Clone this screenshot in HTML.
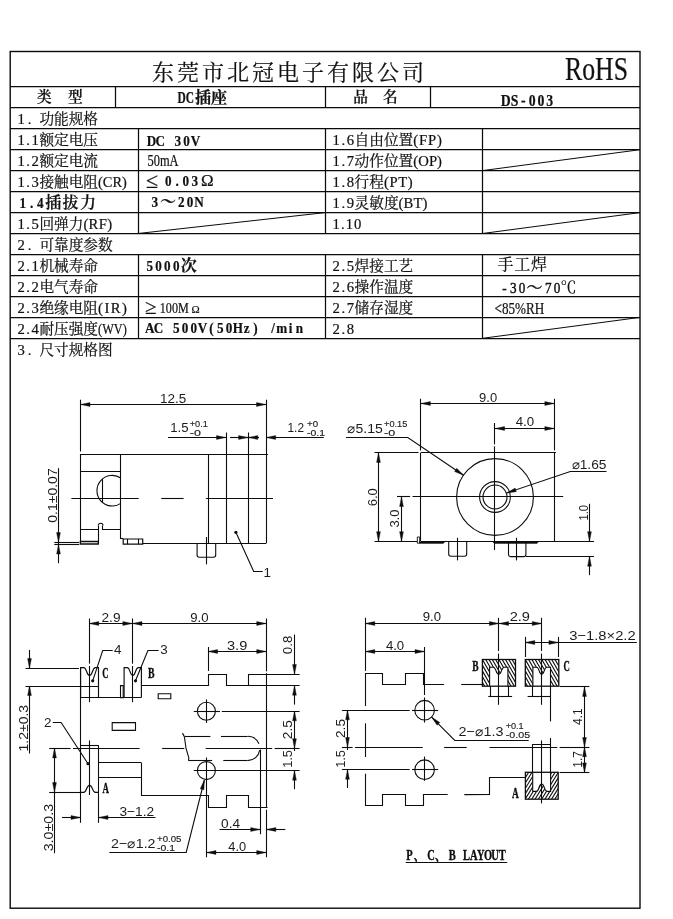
<!DOCTYPE html>
<html lang="zh"><head><meta charset="utf-8"><title>DS-003</title>
<style>
html,body{margin:0;padding:0;background:#fff}
#pg{position:relative;width:673px;height:919px;overflow:hidden;background:#fff}
.lay{position:absolute;left:0;top:0;will-change:transform;opacity:0.999}
text{fill:#111;white-space:pre}
.s{stroke:#111;stroke-width:0.22px}
.sk{stroke:#111;stroke-width:0.45px}
.s{font-family:"Liberation Serif","Noto Serif CJK SC",serif}
.m{font-family:"Liberation Mono","Noto Serif CJK SC",monospace}
.mb{font-family:"Liberation Mono","Noto Serif CJK SC",monospace;font-weight:700}
.w6{font-weight:600}.w7{font-weight:700}
.d{font-family:"Liberation Sans","Noto Sans CJK SC",sans-serif;fill:#1c1c1c;stroke:none}
.tb{font-weight:400;stroke:#1c1c1c;stroke-width:0.15px}
.b{font-family:"Liberation Serif","Noto Serif CJK SC",serif;font-weight:700;fill:#0c0c0c;stroke:#0c0c0c;stroke-width:0.35px}
</style></head><body><div id="pg">
<svg class="lay" width="673" height="919" viewBox="0 0 673 919"><rect x="10.2" y="51.5" width="629.8" height="856.7" fill="none" stroke="#0a0a0a" stroke-width="1.4"/><line x1="10.2" y1="86.5" x2="640.0" y2="86.5" stroke="#0a0a0a" stroke-width="1.25"/><line x1="10.2" y1="107.5" x2="640.0" y2="107.5" stroke="#0a0a0a" stroke-width="1.25"/><line x1="10.2" y1="128.5" x2="640.0" y2="128.5" stroke="#0a0a0a" stroke-width="1.25"/><line x1="10.2" y1="149.5" x2="640.0" y2="149.5" stroke="#0a0a0a" stroke-width="1.25"/><line x1="10.2" y1="170.5" x2="640.0" y2="170.5" stroke="#0a0a0a" stroke-width="1.25"/><line x1="10.2" y1="191.5" x2="640.0" y2="191.5" stroke="#0a0a0a" stroke-width="1.25"/><line x1="10.2" y1="212.5" x2="640.0" y2="212.5" stroke="#0a0a0a" stroke-width="1.25"/><line x1="10.2" y1="233.5" x2="640.0" y2="233.5" stroke="#0a0a0a" stroke-width="1.25"/><line x1="10.2" y1="254.5" x2="640.0" y2="254.5" stroke="#0a0a0a" stroke-width="1.25"/><line x1="10.2" y1="275.5" x2="640.0" y2="275.5" stroke="#0a0a0a" stroke-width="1.25"/><line x1="10.2" y1="296.5" x2="640.0" y2="296.5" stroke="#0a0a0a" stroke-width="1.25"/><line x1="10.2" y1="317.5" x2="640.0" y2="317.5" stroke="#0a0a0a" stroke-width="1.25"/><line x1="10.2" y1="338.5" x2="640.0" y2="338.5" stroke="#0a0a0a" stroke-width="1.25"/><line x1="115.5" y1="86.8" x2="115.5" y2="107.8" stroke="#0a0a0a" stroke-width="1.25"/><line x1="325.5" y1="86.8" x2="325.5" y2="107.8" stroke="#0a0a0a" stroke-width="1.25"/><line x1="430.5" y1="86.8" x2="430.5" y2="107.8" stroke="#0a0a0a" stroke-width="1.25"/><line x1="138.5" y1="128.7" x2="138.5" y2="233.5" stroke="#0a0a0a" stroke-width="1.25"/><line x1="325.5" y1="128.7" x2="325.5" y2="233.5" stroke="#0a0a0a" stroke-width="1.25"/><line x1="482.5" y1="128.7" x2="482.5" y2="233.5" stroke="#0a0a0a" stroke-width="1.25"/><line x1="138.5" y1="254.5" x2="138.5" y2="338.3" stroke="#0a0a0a" stroke-width="1.25"/><line x1="325.5" y1="254.5" x2="325.5" y2="338.3" stroke="#0a0a0a" stroke-width="1.25"/><line x1="482.5" y1="254.5" x2="482.5" y2="338.3" stroke="#0a0a0a" stroke-width="1.25"/><line x1="138.0" y1="233.5" x2="325.2" y2="212.6" stroke="#0a0a0a" stroke-width="1.0"/><line x1="482.5" y1="170.6" x2="640.0" y2="149.7" stroke="#0a0a0a" stroke-width="1.0"/><line x1="482.5" y1="233.5" x2="640.0" y2="212.6" stroke="#0a0a0a" stroke-width="1.0"/><line x1="482.5" y1="338.3" x2="640.0" y2="317.4" stroke="#0a0a0a" stroke-width="1.0"/>
<text class="s" x="17.4" y="124.0" font-size="14.67" textLength="14.1" lengthAdjust="spacing" >1.</text>
<text class="s" x="39.4" y="124.0" font-size="14.67" >功能规格</text>
<text class="s" x="17.4" y="144.9" font-size="14.67" textLength="21.4" lengthAdjust="spacing" >1.1</text>
<text class="s" x="39.4" y="144.9" font-size="14.67" >额定电压</text>
<text class="s" x="17.4" y="165.9" font-size="14.67" textLength="21.4" lengthAdjust="spacing" >1.2</text>
<text class="s" x="39.4" y="165.9" font-size="14.67" >额定电流</text>
<text class="s" x="17.4" y="186.8" font-size="14.67" textLength="21.4" lengthAdjust="spacing" >1.3</text>
<text class="s" x="39.4" y="186.8" font-size="14.67" >接触电阻</text>
<text class="s" x="98.1" y="186.8" font-size="14.67" textLength="28.7" lengthAdjust="spacingAndGlyphs" >(CR)</text>
<text class="s" x="17.4" y="228.8" font-size="14.67" textLength="21.4" lengthAdjust="spacing" >1.5</text>
<text class="s" x="39.4" y="228.8" font-size="14.67" >回弹力</text>
<text class="s" x="83.4" y="228.8" font-size="14.67" textLength="28.7" lengthAdjust="spacing" >(RF)</text>
<text class="s" x="17.4" y="249.7" font-size="14.67" textLength="14.1" lengthAdjust="spacing" >2.</text>
<text class="s" x="39.4" y="249.7" font-size="14.67" >可靠度参数</text>
<text class="s" x="17.4" y="270.7" font-size="14.67" textLength="21.4" lengthAdjust="spacing" >2.1</text>
<text class="s" x="39.4" y="270.7" font-size="14.67" >机械寿命</text>
<text class="s" x="17.4" y="291.6" font-size="14.67" textLength="21.4" lengthAdjust="spacing" >2.2</text>
<text class="s" x="39.4" y="291.6" font-size="14.67" >电气寿命</text>
<text class="s" x="17.4" y="312.6" font-size="14.67" textLength="21.4" lengthAdjust="spacing" >2.3</text>
<text class="s" x="39.4" y="312.6" font-size="14.67" >绝缘电阻</text>
<text class="s" x="98.1" y="312.6" font-size="14.67" textLength="28.7" lengthAdjust="spacing" >(IR)</text>
<text class="s" x="17.4" y="333.6" font-size="14.67" textLength="21.4" lengthAdjust="spacing" >2.4</text>
<text class="s" x="39.4" y="333.6" font-size="14.67" >耐压强度</text>
<text class="s" x="98.1" y="333.6" font-size="14.67" textLength="28.7" lengthAdjust="spacingAndGlyphs" >(WV)</text>
<text class="s" x="17.4" y="354.5" font-size="14.67" textLength="14.1" lengthAdjust="spacing" >3.</text>
<text class="s" x="39.4" y="354.5" font-size="14.67" >尺寸规格图</text>
<text class="s" x="332.6" y="144.9" font-size="14.67" textLength="21.4" lengthAdjust="spacing" >1.6</text>
<text class="s" x="354.6" y="144.9" font-size="14.67" >自由位置</text>
<text class="s" x="413.3" y="144.9" font-size="14.67" textLength="28.7" lengthAdjust="spacing" >(FP)</text>
<text class="s" x="332.6" y="165.9" font-size="14.67" textLength="21.4" lengthAdjust="spacing" >1.7</text>
<text class="s" x="354.6" y="165.9" font-size="14.67" >动作位置</text>
<text class="s" x="413.3" y="165.9" font-size="14.67" textLength="28.7" lengthAdjust="spacing" >(OP)</text>
<text class="s" x="332.6" y="186.8" font-size="14.67" textLength="21.4" lengthAdjust="spacing" >1.8</text>
<text class="s" x="354.6" y="186.8" font-size="14.67" >行程</text>
<text class="s" x="383.9" y="186.8" font-size="14.67" textLength="28.7" lengthAdjust="spacing" >(PT)</text>
<text class="s" x="332.6" y="207.8" font-size="14.67" textLength="21.4" lengthAdjust="spacing" >1.9</text>
<text class="s" x="354.6" y="207.8" font-size="14.67" >灵敏度</text>
<text class="s" x="398.6" y="207.8" font-size="14.67" textLength="28.7" lengthAdjust="spacing" >(BT)</text>
<text class="s" x="332.6" y="228.8" font-size="14.67" textLength="28.7" lengthAdjust="spacing" >1.10</text>
<text class="s" x="332.6" y="270.7" font-size="14.67" textLength="21.4" lengthAdjust="spacing" >2.5</text>
<text class="s" x="354.6" y="270.7" font-size="14.67" >焊接工艺</text>
<text class="s" x="332.6" y="291.6" font-size="14.67" textLength="21.4" lengthAdjust="spacing" >2.6</text>
<text class="s" x="354.6" y="291.6" font-size="14.67" >操作温度</text>
<text class="s" x="332.6" y="312.6" font-size="14.67" textLength="21.4" lengthAdjust="spacing" >2.7</text>
<text class="s" x="354.6" y="312.6" font-size="14.67" >储存湿度</text>
<text class="s" x="332.6" y="333.6" font-size="14.67" textLength="21.4" lengthAdjust="spacing" >2.8</text>
<text class="s w7" transform="translate(18.4 207.8) scale(0.860 1)" x="1.29 13.44 21.76" y="0" font-size="15.30" >1.4</text>
<text class="s w6" x="45.2" y="207.5" font-size="16.00" letter-spacing="1.4">插拔力</text>
<text class="s w6" x="37.0" y="102.0" font-size="14.67" >类</text>
<text class="s w6" x="68.0" y="102.0" font-size="14.67" >型</text>
<text class="s w6" x="353.3" y="102.0" font-size="14.67" >品</text>
<text class="s w6" x="383.0" y="102.0" font-size="14.67" >名</text>
<text class="s w7" x="177.6" y="102.8" font-size="16.00" textLength="16.5" lengthAdjust="spacingAndGlyphs" >DC</text>
<text class="s w7" x="195.0" y="102.8" font-size="16.00" >插座</text>
<text class="s w7" transform="translate(501.3 105.5) scale(0.860 1)" x="-0.66 10.90 22.92 31.81 42.05 52.28" y="0" font-size="16.00" >DS-003</text>
<text class="s" x="152.0" y="79.6" font-size="22.00" letter-spacing="3.0">东莞市北冠电子有限公司</text>
<text class="s" x="565.0" y="80.3" font-size="33.00" textLength="63.0" lengthAdjust="spacingAndGlyphs" >RoHS</text>
<text class="s w7" transform="translate(147.0 145.8) scale(0.860 1)" x="-0.41 9.82 23.67 31.99 42.22 50.75" y="0" font-size="15.30" >DC 30V</text>
<text class="s" x="147.5" y="166.3" font-size="16.00" textLength="31.0" lengthAdjust="spacingAndGlyphs" >50mA</text>
<text class="s" x="146.0" y="187.6" font-size="22.00" >≤</text>
<text class="s w7" transform="translate(163.9 186.2) scale(0.860 1)" x="1.29 13.44 21.76 31.99" y="0" font-size="15.30" >0.03</text>
<text class="s" x="201.0" y="186.0" font-size="17.00" >Ω</text>
<text class="s w7" transform="translate(150.5 207.2) scale(0.860 1)" x="1.29" y="0" font-size="15.30" >3</text>
<text class="s w7" x="160.0" y="207.2" font-size="16.00" >～</text>
<text class="s w7" transform="translate(176.9 207.2) scale(0.860 1)" x="1.29 11.52 20.06" y="0" font-size="15.30" >20N</text>
<text class="s w7" transform="translate(145.4 271.4) scale(0.860 1)" x="1.29 11.52 21.76 31.99" y="0" font-size="15.30" >5000</text>
<text class="s w7" x="180.8" y="271.4" font-size="16.00" >次</text>
<text class="s" x="145.0" y="314.2" font-size="21.00" >≥</text>
<text class="s" x="159.8" y="313.0" font-size="14.67" textLength="29.0" lengthAdjust="spacingAndGlyphs" >100M</text>
<text class="s" x="191.5" y="313.0" font-size="11.00" >Ω</text>
<text class="s w7" transform="translate(145.4 333.2) scale(0.860 1)" x="-0.41 9.82 23.67 31.99 42.22 52.45 60.99 74.20 83.15 93.38 101.49 114.28 125.36 136.23 146.25 152.23 166.71 174.82" y="0" font-size="15.30" >AC 500V(50Hz) /min</text>
<text class="s" x="497.4" y="270.4" font-size="16.00" letter-spacing="0.8">手工焊</text>
<text class="s sk" transform="translate(500.0 292.8) scale(0.860 1)" x="2.57 11.52 21.76" y="0" font-size="15.30" >-30</text>
<text class="s sk" x="526.6" y="292.8" font-size="16.00" >～</text>
<text class="s sk" transform="translate(543.8 292.8) scale(0.860 1)" x="1.29 11.52" y="0" font-size="15.30" >70</text>
<text class="s" x="560.5" y="292.8" font-size="16.00" >℃</text>
<text class="s" x="494.6" y="313.6" font-size="17.00" textLength="49.7" lengthAdjust="spacingAndGlyphs" >&lt;85%RH</text></svg>
<svg class="lay" width="673" height="919" viewBox="0 0 673 919" fill="none" stroke="#0d0d0d" stroke-linecap="butt"><defs>
<pattern id="hB" width="2.9" height="2.9" patternUnits="userSpaceOnUse" patternTransform="rotate(60)"><path d="M0 0.7H2.9" stroke="#141414" stroke-width="1.25"/></pattern>
<pattern id="hA" width="2.9" height="2.9" patternUnits="userSpaceOnUse" patternTransform="rotate(-58)"><path d="M0 0.7H2.9" stroke="#141414" stroke-width="1.25"/></pattern>
</defs>
<path d="M80.5 399.7L80.5 451.5" stroke-width="1.1"/>
<path d="M80.5 454.0L80.5 543.7" stroke-width="1.1"/>
<path d="M266.5 399.7L266.5 543.3" stroke-width="1.1"/>
<path d="M80.4 404.5L266.1 404.5" stroke-width="1.1"/>
<path d="M80.4 404.5L90.0 402.6L90.0 406.4Z" fill="#0d0d0d" stroke="#0d0d0d" stroke-width="0.4"/>
<path d="M266.1 404.5L256.5 406.4L256.5 402.6Z" fill="#0d0d0d" stroke="#0d0d0d" stroke-width="0.4"/>
<text class="d" x="160.0" y="402.8" font-size="13.4" textLength="26.2" lengthAdjust="spacingAndGlyphs">12.5</text>
<path d="M80.4 454.5L268.0 454.5" stroke-width="1.1"/>
<path d="M142.7 543.5L266.1 543.5" stroke-width="1.1"/>
<path d="M120.5 454.0L120.5 539.0" stroke-width="1.1"/>
<path d="M80.4 471.5L120.8 471.5" stroke-width="1.1"/>
<path d="M208.5 454.0L208.5 543.4" stroke-width="1.1"/>
<path d="M226.5 432.5L226.5 543.4" stroke-width="1.1"/>
<path d="M248.5 432.5L248.5 543.4" stroke-width="1.1"/>
<path d="M168.0 437.5L226.1 437.5" stroke-width="1.1"/>
<path d="M226.1 437.5L216.5 439.4L216.5 435.6Z" fill="#0d0d0d" stroke="#0d0d0d" stroke-width="0.4"/>
<path d="M230.0 437.5L248.2 437.5" stroke-width="1.1"/>
<path d="M248.2 437.5L238.6 439.4L238.6 435.6Z" fill="#0d0d0d" stroke="#0d0d0d" stroke-width="0.4"/>
<path d="M248.2 437.5L259.0 437.5" stroke-width="1.1"/>
<path d="M248.2 437.5L257.8 435.6L257.8 439.4Z" fill="#0d0d0d" stroke="#0d0d0d" stroke-width="0.4"/>
<path d="M266.1 437.5L323.8 437.5" stroke-width="1.1"/>
<path d="M266.1 437.5L275.7 435.6L275.7 439.4Z" fill="#0d0d0d" stroke="#0d0d0d" stroke-width="0.4"/>
<text class="d" x="170.3" y="432.2" font-size="13.4" textLength="18.3" lengthAdjust="spacingAndGlyphs">1.5</text>
<text class="d tb" x="189.8" y="426.6" font-size="9.0" textLength="18.0" lengthAdjust="spacingAndGlyphs">+0.1</text>
<text class="d tb" x="189.8" y="435.8" font-size="9.0" textLength="11.1" lengthAdjust="spacingAndGlyphs">-0</text>
<text class="d" x="287.5" y="432.2" font-size="13.4" textLength="16.5" lengthAdjust="spacingAndGlyphs">1.2</text>
<text class="d tb" x="307.0" y="426.6" font-size="9.0" textLength="11.1" lengthAdjust="spacingAndGlyphs">+0</text>
<text class="d tb" x="307.0" y="435.8" font-size="9.0" textLength="18.0" lengthAdjust="spacingAndGlyphs">-0.1</text>
<path d="M71.4 498.5L138.7 498.5" stroke-width="1.1"/>
<path d="M161.3 498.5L183.6 498.5" stroke-width="1.1"/>
<path d="M205.8 498.5L273.0 498.5" stroke-width="1.1"/>
<path d="M120.8 478.0A15.3 15.3 0 1 0 120.8 503.4" stroke-width="1.1" fill="none"/>
<path d="M102.5 479.1L102.5 502.3" stroke-width="1.1"/>
<path d="M80.4 529.5L98.5 529.5L98.5 525.6" stroke-width="1.1" fill="none"/>
<path d="M98.3 525.6A2.35 2.35 0 0 1 103 525.6" stroke-width="1.1" fill="none"/>
<path d="M102.5 525.6L102.5 529.5L120.8 529.5" stroke-width="1.1" fill="none"/>
<path d="M98.5 529.5L98.5 543.7" stroke-width="1.1"/>
<path d="M80.4 541.5H98.3V544.0H80.4Z" stroke-width="1.3" fill="none"/>
<path d="M54.3 542.5L79.2 542.5" stroke-width="1.1"/>
<path d="M54.3 544.5L79.2 544.5" stroke-width="1.1"/>
<path d="M120.8 538.5L123.2 538.5" stroke-width="1.1"/>
<path d="M123.2 539H142.7V544.2H123.2Z" stroke-width="1.2" fill="none"/>
<path d="M127.5 539.0L127.5 544.2" stroke-width="1.1"/>
<path d="M138.5 539.0L138.5 544.2" stroke-width="1.1"/>
<path d="M58.5 468.2L58.5 563.2" stroke-width="1.1"/>
<path d="M58.5 542.2L56.6 532.6L60.4 532.6Z" fill="#0d0d0d" stroke="#0d0d0d" stroke-width="0.4"/>
<path d="M58.5 544.4L60.4 554.0L56.6 554.0Z" fill="#0d0d0d" stroke="#0d0d0d" stroke-width="0.4"/>
<text class="d" x="56.9" y="522.8" font-size="13.4" textLength="54.5" lengthAdjust="spacingAndGlyphs" transform="rotate(-90 56.9 522.8)">0.1±0.07</text>
<path d="M197.1 543.4L197.1 555.1Q197.1 557.3 199.3 557.3L213.5 557.3Q215.7 557.3 215.7 555.1L215.7 543.4" stroke-width="1.1" fill="none"/>
<path d="M206.5 537.0L206.5 564.4" stroke-width="1.1"/>
<circle cx="235.9" cy="532.3" r="1.6" fill="#0d0d0d" stroke="none"/>
<path d="M235.9 532.3L253.7 571.5L262.7 571.5" stroke-width="1.1" fill="none"/>
<text class="d" x="263.6" y="577.0" font-size="13.4">1</text>
<path d="M420.5 398.8L420.5 450.5" stroke-width="1.1"/>
<path d="M420.5 452.8L420.5 541.3" stroke-width="1.1"/>
<path d="M554.5 398.8L554.5 450.4" stroke-width="1.1"/>
<path d="M554.5 452.8L554.5 541.3" stroke-width="1.1"/>
<path d="M420.8 403.5L554.4 403.5" stroke-width="1.1"/>
<path d="M420.8 403.5L430.4 401.6L430.4 405.4Z" fill="#0d0d0d" stroke="#0d0d0d" stroke-width="0.4"/>
<path d="M554.4 403.5L544.8 405.4L544.8 401.6Z" fill="#0d0d0d" stroke="#0d0d0d" stroke-width="0.4"/>
<text class="d" x="479.1" y="401.6" font-size="13.4" textLength="18.0" lengthAdjust="spacingAndGlyphs">9.0</text>
<path d="M420.8 452.5L556.0 452.5" stroke-width="1.1"/>
<path d="M374.5 452.5L418.5 452.5" stroke-width="1.1"/>
<path d="M420.8 541.5L594.1 541.5" stroke-width="1.1"/>
<path d="M374.5 541.5L417.3 541.5" stroke-width="1.1"/>
<circle cx="495.0" cy="497.0" r="38.4" stroke-width="1.1"/>
<circle cx="495.0" cy="497.0" r="15.4" stroke-width="1.1"/>
<circle cx="495.0" cy="497.0" r="12.0" stroke-width="1.1"/>
<path d="M494.5 423.0L494.5 444.4" stroke-width="1.1"/>
<path d="M494.5 446.3L494.5 550.0" stroke-width="1.1"/>
<path d="M397.0 496.5L410.1 496.5" stroke-width="1.1"/>
<path d="M412.5 496.5L563.2 496.5" stroke-width="1.1"/>
<path d="M495.0 428.5L554.4 428.5" stroke-width="1.1"/>
<path d="M495.0 428.5L504.6 426.6L504.6 430.4Z" fill="#0d0d0d" stroke="#0d0d0d" stroke-width="0.4"/>
<path d="M554.4 428.5L544.8 430.4L544.8 426.6Z" fill="#0d0d0d" stroke="#0d0d0d" stroke-width="0.4"/>
<text class="d" x="515.7" y="426.0" font-size="13.4" textLength="18.5" lengthAdjust="spacingAndGlyphs">4.0</text>
<text class="d" x="347.1" y="432.5" font-size="13.4" textLength="35.7" lengthAdjust="spacingAndGlyphs">⌀5.15</text>
<text class="d tb" x="384.0" y="426.8" font-size="9.0" textLength="23.3" lengthAdjust="spacingAndGlyphs">+0.15</text>
<text class="d tb" x="384.0" y="436.0" font-size="9.0" textLength="11.1" lengthAdjust="spacingAndGlyphs">-0</text>
<path d="M346.0 437.5L407.8 437.5L463.6 475.3" stroke-width="1.1" fill="none"/>
<path d="M463.6 475.3L454.6 471.5L456.7 468.3Z" fill="#0d0d0d" stroke="#0d0d0d" stroke-width="0.4"/>
<text class="d" x="571.5" y="469.4" font-size="13.4" textLength="35.0" lengthAdjust="spacingAndGlyphs">⌀1.65</text>
<path d="M606.5 471.5L570.3 471.5L506.6 493.0" stroke-width="1.1" fill="none"/>
<path d="M506.6 493.0L515.1 488.1L516.3 491.7Z" fill="#0d0d0d" stroke="#0d0d0d" stroke-width="0.4"/>
<path d="M378.5 452.8L378.5 541.3" stroke-width="1.1"/>
<path d="M378.5 452.8L380.4 462.4L376.6 462.4Z" fill="#0d0d0d" stroke="#0d0d0d" stroke-width="0.4"/>
<path d="M378.5 541.3L376.6 531.7L380.4 531.7Z" fill="#0d0d0d" stroke="#0d0d0d" stroke-width="0.4"/>
<text class="d" x="376.8" y="506.2" font-size="13.4" textLength="18.0" lengthAdjust="spacingAndGlyphs" transform="rotate(-90 376.8 506.2)">6.0</text>
<path d="M401.5 497.0L401.5 541.3" stroke-width="1.1"/>
<path d="M401.5 497.0L403.4 506.6L399.6 506.6Z" fill="#0d0d0d" stroke="#0d0d0d" stroke-width="0.4"/>
<path d="M401.5 541.3L399.6 531.7L403.4 531.7Z" fill="#0d0d0d" stroke="#0d0d0d" stroke-width="0.4"/>
<text class="d" x="399.3" y="527.6" font-size="13.4" textLength="18.0" lengthAdjust="spacingAndGlyphs" transform="rotate(-90 399.3 527.6)">3.0</text>
<path d="M417.3 537H419.7V543.2H417.3Z" stroke-width="0.9" fill="none"/>
<path d="M419.7 541.3V543.2H443L445.5 541.3" stroke-width="0.9" fill="none"/>
<path d="M492.5 541.3L494 543.2H537L538.8 541.3" stroke-width="0.9" fill="none"/>
<path d="M419.7 542.5L444.0 542.5" stroke-width="1.4"/>
<path d="M494.0 542.5L537.5 542.5" stroke-width="1.4"/>
<path d="M448.7 541.3L448.7 554.0Q448.7 556.2 450.9 556.2L464.5 556.2Q466.7 556.2 466.7 554.0L466.7 541.3" stroke-width="1.1" fill="none"/>
<path d="M457.5 537.8L457.5 560.4" stroke-width="1.1"/>
<path d="M508.5 541.3L508.5 554.4Q508.5 556.6 510.7 556.6L523.7 556.6Q525.9 556.6 525.9 554.4L525.9 541.3" stroke-width="1.1" fill="none"/>
<path d="M516.5 537.8L516.5 560.4" stroke-width="1.1"/>
<path d="M525.9 556.5L594.1 556.5" stroke-width="1.1"/>
<path d="M589.5 503.8L589.5 541.3" stroke-width="1.1"/>
<path d="M589.5 541.3L587.6 531.7L591.4 531.7Z" fill="#0d0d0d" stroke="#0d0d0d" stroke-width="0.4"/>
<path d="M589.5 556.6L589.5 575.1" stroke-width="1.1"/>
<path d="M589.5 556.6L591.4 566.2L587.6 566.2Z" fill="#0d0d0d" stroke="#0d0d0d" stroke-width="0.4"/>
<text class="d" x="588.0" y="520.6" font-size="13.4" textLength="15.6" lengthAdjust="spacingAndGlyphs" transform="rotate(-90 588.0 520.6)">1.0</text>
<path d="M89.5 618.5L89.5 663.7" stroke-width="1.1"/>
<path d="M89.5 666.0L89.5 702.2" stroke-width="1.1"/>
<path d="M132.5 618.5L132.5 663.7" stroke-width="1.1"/>
<path d="M132.5 666.0L132.5 702.2" stroke-width="1.1"/>
<path d="M89.2 623.5L266.3 623.5" stroke-width="1.1"/>
<path d="M89.2 623.5L98.8 621.6L98.8 625.4Z" fill="#0d0d0d" stroke="#0d0d0d" stroke-width="0.4"/>
<path d="M132.4 623.5L122.8 625.4L122.8 621.6Z" fill="#0d0d0d" stroke="#0d0d0d" stroke-width="0.4"/>
<path d="M132.4 623.5L142.0 621.6L142.0 625.4Z" fill="#0d0d0d" stroke="#0d0d0d" stroke-width="0.4"/>
<path d="M266.3 623.5L256.7 625.4L256.7 621.6Z" fill="#0d0d0d" stroke="#0d0d0d" stroke-width="0.4"/>
<text class="d" x="101.5" y="622.0" font-size="13.4" textLength="19.0" lengthAdjust="spacingAndGlyphs">2.9</text>
<text class="d" x="190.2" y="621.9" font-size="13.4" textLength="18.3" lengthAdjust="spacingAndGlyphs">9.0</text>
<path d="M266.5 618.5L266.5 671.3" stroke-width="1.1"/>
<path d="M266.5 673.2L266.5 807.3" stroke-width="1.1"/>
<path d="M266.5 809.7L266.5 857.3" stroke-width="1.1"/>
<path d="M208.5 647.0L208.5 670.9" stroke-width="1.1"/>
<path d="M208.0 651.5L266.3 651.5" stroke-width="1.1"/>
<path d="M208.0 651.5L217.6 649.6L217.6 653.4Z" fill="#0d0d0d" stroke="#0d0d0d" stroke-width="0.4"/>
<path d="M266.3 651.5L256.7 653.4L256.7 649.6Z" fill="#0d0d0d" stroke="#0d0d0d" stroke-width="0.4"/>
<text class="d" x="227.0" y="650.0" font-size="13.4" textLength="20.3" lengthAdjust="spacingAndGlyphs">3.9</text>
<path d="M80.6 697.6L80.6 667.6L83.6 667.6C87.1 667.6 86.1 675.3 89.5 675.3C93.0 675.3 92.0 667.6 95.5 667.6L98.5 667.6L98.5 697.6" stroke-width="1.15" fill="none"/>
<path d="M124.1 697.6L124.1 667.6L127.1 667.6C130.4 667.6 129.5 675.3 132.8 675.3C136.0 675.3 135.1 667.6 138.4 667.6L141.4 667.6L141.4 697.6" stroke-width="1.15" fill="none"/>
<path d="M80.6 697.5L141.4 697.5" stroke-width="1.1"/>
<path d="M120.5 685.6H123.2V697.6H120.5Z" stroke-width="1.1" fill="none"/>
<path d="M25.5 668.5L79.0 668.5" stroke-width="1.1"/>
<path d="M25.5 686.5L98.4 686.5" stroke-width="1.1"/>
<path d="M29.5 650.0L29.5 668.2" stroke-width="1.1"/>
<path d="M29.5 668.2L27.6 658.6L31.4 658.6Z" fill="#0d0d0d" stroke="#0d0d0d" stroke-width="0.4"/>
<path d="M29.5 686.0L29.5 753.5" stroke-width="1.1"/>
<path d="M29.5 686.0L31.4 695.6L27.6 695.6Z" fill="#0d0d0d" stroke="#0d0d0d" stroke-width="0.4"/>
<text class="d" x="27.6" y="751.4" font-size="13.4" textLength="46.5" lengthAdjust="spacingAndGlyphs" transform="rotate(-90 27.6 751.4)">1.2±0.3</text>
<path d="M80.5 668.2L80.5 822.8" stroke-width="1.1"/>
<path d="M98.5 745.2L98.5 822.8" stroke-width="1.1"/>
<path d="M89.5 740.4L89.5 795.0" stroke-width="1.1"/>
<path d="M80.6 745.5L98.4 745.5" stroke-width="1.1"/>
<path d="M80.6 792.4L83.6 792.4C87.1 792.4 86.1 785.3 89.5 785.3C93.0 785.3 92.0 792.4 95.5 792.4L98.5 792.4" stroke-width="1.15" fill="none"/>
<path d="M98.4 762.5L141.5 762.5" stroke-width="1.1"/>
<path d="M98.4 777.5L141.5 777.5" stroke-width="1.1"/>
<path d="M141.5 763.0L141.5 795.5L208.5 795.5L208.5 807.5L226.5 807.5L226.5 795.5L248.5 795.5L248.5 807.5L267.5 807.5" stroke-width="1.1" fill="none"/>
<path d="M141.5 685.5L208.5 685.5L208.5 674.5L226.5 674.5L226.5 685.5L248.5 685.5L248.5 674.5L299.6 674.5" stroke-width="1.1" fill="none"/>
<path d="M248.5 685.5L299.6 685.5" stroke-width="1.1"/>
<path d="M158.2 693.8H170.8V698.8H158.2Z" stroke-width="1.1" fill="none"/>
<path d="M112.2 722.6H135.5V730.4H112.2Z" stroke-width="1.1" fill="none"/>
<circle cx="206.4" cy="711.2" r="9.0" stroke-width="1.1"/>
<circle cx="206.4" cy="770.6" r="9.0" stroke-width="1.1"/>
<path d="M193.8 711.5L220.0 711.5" stroke-width="1.1"/>
<path d="M221.8 711.5L299.6 711.5" stroke-width="1.1"/>
<path d="M206.5 699.4L206.5 723.0" stroke-width="1.1"/>
<path d="M193.8 770.5L299.6 770.5" stroke-width="1.1"/>
<path d="M206.5 757.5L206.5 857.3" stroke-width="1.1"/>
<path d="M49.2 748.5L70.6 748.5" stroke-width="1.1"/>
<path d="M73.0 748.5L139.6 748.5" stroke-width="1.1"/>
<path d="M162.2 748.5L184.3 748.5" stroke-width="1.1"/>
<path d="M205.7 748.5L272.2 748.5" stroke-width="1.1"/>
<path d="M274.6 748.5L299.6 748.5" stroke-width="1.1"/>
<path d="M184.7 736.5L210.4 736.5" stroke-width="1.1"/>
<path d="M221.0 736.5L247.6 736.5" stroke-width="1.1"/>
<path d="M247.6 736.2A12.2 12.2 0 0 1 258.9 743.8" stroke-width="1.1" fill="none"/>
<path d="M259.7 750.2A12.2 12.2 0 0 1 247.6 760.6" stroke-width="1.1" fill="none"/>
<path d="M247.6 760.5L223.3 760.5" stroke-width="1.1"/>
<path d="M212.1 760.5L188.4 760.5" stroke-width="1.1"/>
<path d="M182.4 733.2C184 735 184.6 736 185 741C185.4 747 186.4 751 188 755C189.2 757.5 189.3 759 188.4 760.6" stroke-width="1.1" fill="none"/>
<path d="M260.5 749.5L260.5 834.2" stroke-width="1.1"/>
<path d="M294.5 634.5L294.5 674.2" stroke-width="1.1"/>
<path d="M294.5 674.2L292.6 664.6L296.4 664.6Z" fill="#0d0d0d" stroke="#0d0d0d" stroke-width="0.4"/>
<path d="M294.5 685.6L294.5 704.6" stroke-width="1.1"/>
<path d="M294.5 685.6L296.4 695.2L292.6 695.2Z" fill="#0d0d0d" stroke="#0d0d0d" stroke-width="0.4"/>
<text class="d" x="292.3" y="654.2" font-size="13.4" textLength="18.5" lengthAdjust="spacingAndGlyphs" transform="rotate(-90 292.3 654.2)">0.8</text>
<path d="M294.5 711.2L294.5 751.0" stroke-width="1.1"/>
<path d="M294.5 711.2L296.4 720.8L292.6 720.8Z" fill="#0d0d0d" stroke="#0d0d0d" stroke-width="0.4"/>
<path d="M294.5 748.3L292.6 738.7L296.4 738.7Z" fill="#0d0d0d" stroke="#0d0d0d" stroke-width="0.4"/>
<text class="d" x="292.3" y="739.2" font-size="13.4" textLength="19.0" lengthAdjust="spacingAndGlyphs" transform="rotate(-90 292.3 739.2)">2.5</text>
<path d="M294.5 770.6L294.5 789.2" stroke-width="1.1"/>
<path d="M294.5 770.6L296.4 780.2L292.6 780.2Z" fill="#0d0d0d" stroke="#0d0d0d" stroke-width="0.4"/>
<text class="d" x="292.3" y="767.8" font-size="13.4" textLength="17.8" lengthAdjust="spacingAndGlyphs" transform="rotate(-90 292.3 767.8)">1.5</text>
<path d="M49.2 792.5L80.1 792.5" stroke-width="1.1"/>
<path d="M54.5 748.3L54.5 853.2" stroke-width="1.1"/>
<path d="M54.5 748.3L56.4 757.9L52.6 757.9Z" fill="#0d0d0d" stroke="#0d0d0d" stroke-width="0.4"/>
<path d="M54.5 792.2L52.6 782.6L56.4 782.6Z" fill="#0d0d0d" stroke="#0d0d0d" stroke-width="0.4"/>
<text class="d" x="52.7" y="851.3" font-size="13.4" textLength="47.5" lengthAdjust="spacingAndGlyphs" transform="rotate(-90 52.7 851.3)">3.0±0.3</text>
<path d="M62.0 817.5L80.6 817.5" stroke-width="1.1"/>
<path d="M80.6 817.5L71.0 819.4L71.0 815.6Z" fill="#0d0d0d" stroke="#0d0d0d" stroke-width="0.4"/>
<path d="M98.4 817.5L155.5 817.5" stroke-width="1.1"/>
<path d="M98.4 817.5L108.0 815.6L108.0 819.4Z" fill="#0d0d0d" stroke="#0d0d0d" stroke-width="0.4"/>
<text class="d" x="119.4" y="815.5" font-size="13.4" textLength="34.7" lengthAdjust="spacingAndGlyphs">3−1.2</text>
<text class="d" x="44.0" y="726.6" font-size="13.4">2</text>
<path d="M52.8 722.5L61.1 722.5L88.0 763.7" stroke-width="1.1" fill="none"/>
<circle cx="88.0" cy="763.7" r="1.6" fill="#0d0d0d" stroke="none"/>
<circle cx="92.7" cy="680.8" r="1.6" fill="#0d0d0d" stroke="none"/>
<path d="M92.7 680.8L102.7 650.5L112.7 650.5" stroke-width="1.1" fill="none"/>
<text class="d" x="113.9" y="654.2" font-size="13.4">4</text>
<circle cx="135.5" cy="680.8" r="1.6" fill="#0d0d0d" stroke="none"/>
<path d="M135.5 680.8L147.9 650.5L158.6 650.5" stroke-width="1.1" fill="none"/>
<text class="d" x="160.3" y="654.2" font-size="13.4">3</text>
<text class="b" x="102.2" y="677.8" font-size="14.7" textLength="6.3" lengthAdjust="spacingAndGlyphs">C</text>
<text class="b" x="147.9" y="677.8" font-size="14.7" textLength="6.5" lengthAdjust="spacingAndGlyphs">B</text>
<text class="b" x="102.6" y="792.9" font-size="14.7" textLength="6.4" lengthAdjust="spacingAndGlyphs">A</text>
<text class="d" x="111.0" y="847.8" font-size="13.4" textLength="44.5" lengthAdjust="spacingAndGlyphs">2−⌀1.2</text>
<text class="d tb" x="157.0" y="841.8" font-size="9.0" textLength="24.4" lengthAdjust="spacingAndGlyphs">+0.05</text>
<text class="d tb" x="157.0" y="850.6" font-size="9.0" textLength="18.0" lengthAdjust="spacingAndGlyphs">-0.1</text>
<path d="M109.4 852.5L186.2 852.5L204.4 780.0" stroke-width="1.1" fill="none"/>
<path d="M204.4 780.0L203.9 789.8L200.2 788.8Z" fill="#0d0d0d" stroke="#0d0d0d" stroke-width="0.4"/>
<path d="M219.5 829.5L260.3 829.5" stroke-width="1.1"/>
<path d="M260.3 829.5L250.7 831.4L250.7 827.6Z" fill="#0d0d0d" stroke="#0d0d0d" stroke-width="0.4"/>
<path d="M266.3 829.5L285.3 829.5" stroke-width="1.1"/>
<path d="M266.3 829.5L275.9 827.6L275.9 831.4Z" fill="#0d0d0d" stroke="#0d0d0d" stroke-width="0.4"/>
<text class="d" x="221.1" y="827.6" font-size="13.4" textLength="19.0" lengthAdjust="spacingAndGlyphs">0.4</text>
<path d="M206.4 852.5L266.3 852.5" stroke-width="1.1"/>
<path d="M206.4 852.5L216.0 850.6L216.0 854.4Z" fill="#0d0d0d" stroke="#0d0d0d" stroke-width="0.4"/>
<path d="M266.3 852.5L256.7 854.4L256.7 850.6Z" fill="#0d0d0d" stroke="#0d0d0d" stroke-width="0.4"/>
<text class="d" x="228.3" y="850.6" font-size="13.4" textLength="17.8" lengthAdjust="spacingAndGlyphs">4.0</text>
<clipPath id="cp1"><rect x="482.4" y="659.5" width="33.1" height="26.7"/></clipPath>
<path d="M383.40 659.5L398.82 686.2M386.70 659.5L402.12 686.2M390.00 659.5L405.42 686.2M393.30 659.5L408.72 686.2M396.60 659.5L412.02 686.2M399.90 659.5L415.32 686.2M403.20 659.5L418.62 686.2M406.50 659.5L421.92 686.2M409.80 659.5L425.22 686.2M413.10 659.5L428.52 686.2M416.40 659.5L431.82 686.2M419.70 659.5L435.12 686.2M423.00 659.5L438.42 686.2M426.30 659.5L441.72 686.2M429.60 659.5L445.02 686.2M432.90 659.5L448.32 686.2M436.20 659.5L451.62 686.2M439.50 659.5L454.92 686.2M442.80 659.5L458.22 686.2M446.10 659.5L461.52 686.2M449.40 659.5L464.82 686.2M452.70 659.5L468.12 686.2M456.00 659.5L471.42 686.2M459.30 659.5L474.72 686.2M462.60 659.5L478.02 686.2M465.90 659.5L481.32 686.2M469.20 659.5L484.62 686.2M472.50 659.5L487.92 686.2M475.80 659.5L491.22 686.2M479.10 659.5L494.52 686.2M482.40 659.5L497.82 686.2M485.70 659.5L501.12 686.2M489.00 659.5L504.42 686.2M492.30 659.5L507.72 686.2M495.60 659.5L511.02 686.2M498.90 659.5L514.32 686.2M502.20 659.5L517.62 686.2M505.50 659.5L520.92 686.2M508.80 659.5L524.22 686.2M512.10 659.5L527.52 686.2M515.40 659.5L530.82 686.2M518.70 659.5L534.12 686.2M522.00 659.5L537.42 686.2M525.30 659.5L540.72 686.2M528.60 659.5L544.02 686.2M531.90 659.5L547.32 686.2M535.20 659.5L550.62 686.2M538.50 659.5L553.92 686.2M541.80 659.5L557.22 686.2M545.10 659.5L560.52 686.2M548.40 659.5L563.82 686.2M551.70 659.5L567.12 686.2M555.00 659.5L570.42 686.2M558.30 659.5L573.72 686.2M561.60 659.5L577.02 686.2M564.90 659.5L580.32 686.2M568.20 659.5L583.62 686.2M571.50 659.5L586.92 686.2M574.80 659.5L590.22 686.2M578.10 659.5L593.52 686.2" stroke="#111" stroke-width="1.15" clip-path="url(#cp1)"/>
<path d="M489.6 686.2L489.6 667.2L493.2 667.2C496.4 667.2 495.5 674.2 498.8 674.2C502.0 674.2 501.1 667.2 504.3 667.2L507.9 667.2L507.9 686.2" fill="#fff" stroke-width="1.1"/>
<rect x="482.4" y="659.5" width="33.1" height="26.7" stroke-width="1.3"/>
<clipPath id="cp2"><rect x="525.3" y="659.5" width="33.5" height="26.7"/></clipPath>
<path d="M426.30 659.5L441.72 686.2M429.60 659.5L445.02 686.2M432.90 659.5L448.32 686.2M436.20 659.5L451.62 686.2M439.50 659.5L454.92 686.2M442.80 659.5L458.22 686.2M446.10 659.5L461.52 686.2M449.40 659.5L464.82 686.2M452.70 659.5L468.12 686.2M456.00 659.5L471.42 686.2M459.30 659.5L474.72 686.2M462.60 659.5L478.02 686.2M465.90 659.5L481.32 686.2M469.20 659.5L484.62 686.2M472.50 659.5L487.92 686.2M475.80 659.5L491.22 686.2M479.10 659.5L494.52 686.2M482.40 659.5L497.82 686.2M485.70 659.5L501.12 686.2M489.00 659.5L504.42 686.2M492.30 659.5L507.72 686.2M495.60 659.5L511.02 686.2M498.90 659.5L514.32 686.2M502.20 659.5L517.62 686.2M505.50 659.5L520.92 686.2M508.80 659.5L524.22 686.2M512.10 659.5L527.52 686.2M515.40 659.5L530.82 686.2M518.70 659.5L534.12 686.2M522.00 659.5L537.42 686.2M525.30 659.5L540.72 686.2M528.60 659.5L544.02 686.2M531.90 659.5L547.32 686.2M535.20 659.5L550.62 686.2M538.50 659.5L553.92 686.2M541.80 659.5L557.22 686.2M545.10 659.5L560.52 686.2M548.40 659.5L563.82 686.2M551.70 659.5L567.12 686.2M555.00 659.5L570.42 686.2M558.30 659.5L573.72 686.2M561.60 659.5L577.02 686.2M564.90 659.5L580.32 686.2M568.20 659.5L583.62 686.2M571.50 659.5L586.92 686.2M574.80 659.5L590.22 686.2M578.10 659.5L593.52 686.2M581.40 659.5L596.82 686.2M584.70 659.5L600.12 686.2M588.00 659.5L603.42 686.2M591.30 659.5L606.72 686.2M594.60 659.5L610.02 686.2M597.90 659.5L613.32 686.2M601.20 659.5L616.62 686.2M604.50 659.5L619.92 686.2M607.80 659.5L623.22 686.2M611.10 659.5L626.52 686.2M614.40 659.5L629.82 686.2M617.70 659.5L633.12 686.2M621.00 659.5L636.42 686.2" stroke="#111" stroke-width="1.15" clip-path="url(#cp2)"/>
<path d="M532.9 686.2L532.9 667.2L536.5 667.2C539.5 667.2 538.7 674.2 541.7 674.2C544.7 674.2 543.9 667.2 546.9 667.2L550.5 667.2L550.5 686.2" fill="#fff" stroke-width="1.1"/>
<rect x="525.3" y="659.5" width="33.5" height="26.7" stroke-width="1.3"/>
<clipPath id="cp3"><rect x="525.4" y="772.3" width="32.8" height="26.9"/></clipPath>
<path d="M426.40 772.3L409.59 799.2M429.70 772.3L412.89 799.2M433.00 772.3L416.19 799.2M436.30 772.3L419.49 799.2M439.60 772.3L422.79 799.2M442.90 772.3L426.09 799.2M446.20 772.3L429.39 799.2M449.50 772.3L432.69 799.2M452.80 772.3L435.99 799.2M456.10 772.3L439.29 799.2M459.40 772.3L442.59 799.2M462.70 772.3L445.89 799.2M466.00 772.3L449.19 799.2M469.30 772.3L452.49 799.2M472.60 772.3L455.79 799.2M475.90 772.3L459.09 799.2M479.20 772.3L462.39 799.2M482.50 772.3L465.69 799.2M485.80 772.3L468.99 799.2M489.10 772.3L472.29 799.2M492.40 772.3L475.59 799.2M495.70 772.3L478.89 799.2M499.00 772.3L482.19 799.2M502.30 772.3L485.49 799.2M505.60 772.3L488.79 799.2M508.90 772.3L492.09 799.2M512.20 772.3L495.39 799.2M515.50 772.3L498.69 799.2M518.80 772.3L501.99 799.2M522.10 772.3L505.29 799.2M525.40 772.3L508.59 799.2M528.70 772.3L511.89 799.2M532.00 772.3L515.19 799.2M535.30 772.3L518.49 799.2M538.60 772.3L521.79 799.2M541.90 772.3L525.09 799.2M545.20 772.3L528.39 799.2M548.50 772.3L531.69 799.2M551.80 772.3L534.99 799.2M555.10 772.3L538.29 799.2M558.40 772.3L541.59 799.2M561.70 772.3L544.89 799.2M565.00 772.3L548.19 799.2M568.30 772.3L551.49 799.2M571.60 772.3L554.79 799.2M574.90 772.3L558.09 799.2M578.20 772.3L561.39 799.2M581.50 772.3L564.69 799.2M584.80 772.3L567.99 799.2M588.10 772.3L571.29 799.2M591.40 772.3L574.59 799.2M594.70 772.3L577.89 799.2M598.00 772.3L581.19 799.2M601.30 772.3L584.49 799.2M604.60 772.3L587.79 799.2M607.90 772.3L591.09 799.2M611.20 772.3L594.39 799.2M614.50 772.3L597.69 799.2M617.80 772.3L600.99 799.2M621.10 772.3L604.29 799.2" stroke="#111" stroke-width="1.15" clip-path="url(#cp3)"/>
<path d="M532.7 772.3L532.7 791.4L536.3 791.4C539.4 791.4 538.5 784.0 541.7 784.0C544.8 784.0 543.9 791.4 547.0 791.4L550.6 791.4L550.6 772.3" fill="#fff" stroke-width="1.1"/>
<rect x="525.4" y="772.3" width="32.8" height="26.9" stroke-width="1.3"/>
<path d="M365.5 617.8L365.5 670.9" stroke-width="1.1"/>
<path d="M365.5 673.2L365.5 706.0" stroke-width="1.1"/>
<path d="M365.5 723.3L365.5 757.0" stroke-width="1.1"/>
<path d="M365.5 773.7L365.5 805.8" stroke-width="1.1"/>
<path d="M365.2 623.5L541.8 623.5" stroke-width="1.1"/>
<path d="M365.2 623.5L374.8 621.6L374.8 625.4Z" fill="#0d0d0d" stroke="#0d0d0d" stroke-width="0.4"/>
<path d="M499.0 623.5L489.4 625.4L489.4 621.6Z" fill="#0d0d0d" stroke="#0d0d0d" stroke-width="0.4"/>
<path d="M499.0 623.5L508.6 621.6L508.6 625.4Z" fill="#0d0d0d" stroke="#0d0d0d" stroke-width="0.4"/>
<path d="M541.8 623.5L532.2 625.4L532.2 621.6Z" fill="#0d0d0d" stroke="#0d0d0d" stroke-width="0.4"/>
<text class="d" x="422.7" y="621.4" font-size="13.4" textLength="18.3" lengthAdjust="spacingAndGlyphs">9.0</text>
<text class="d" x="509.7" y="621.4" font-size="13.4" textLength="20.3" lengthAdjust="spacingAndGlyphs">2.9</text>
<path d="M498.5 617.8L498.5 651.0" stroke-width="1.1"/>
<path d="M498.5 653.5L498.5 704.8" stroke-width="1.1"/>
<path d="M541.5 617.8L541.5 651.0" stroke-width="1.1"/>
<path d="M541.5 653.5L541.5 704.8" stroke-width="1.1"/>
<path d="M365.2 651.5L424.6 651.5" stroke-width="1.1"/>
<path d="M365.2 651.5L374.8 649.6L374.8 653.4Z" fill="#0d0d0d" stroke="#0d0d0d" stroke-width="0.4"/>
<path d="M424.6 651.5L415.0 653.4L415.0 649.6Z" fill="#0d0d0d" stroke="#0d0d0d" stroke-width="0.4"/>
<path d="M424.5 647.0L424.5 695.0" stroke-width="1.1"/>
<path d="M424.5 697.5L424.5 722.6" stroke-width="1.1"/>
<path d="M424.5 756.6L424.5 780.8" stroke-width="1.1"/>
<text class="d" x="385.9" y="650.0" font-size="13.4" textLength="18.3" lengthAdjust="spacingAndGlyphs">4.0</text>
<path d="M365.2 673.5L382.5 673.5L382.5 684.5L405.5 684.5L405.5 673.5L423.5 673.5L423.5 684.5L444.1 684.5" stroke-width="1.1" fill="none"/>
<path d="M461.2 684.5L482.2 684.5" stroke-width="1.1"/>
<circle cx="424.6" cy="710.2" r="9.8" stroke-width="1.1"/>
<circle cx="424.6" cy="769.7" r="9.8" stroke-width="1.1"/>
<path d="M341.9 710.5L409.6 710.5" stroke-width="1.1"/>
<path d="M412.0 710.5L438.2 710.5" stroke-width="1.1"/>
<path d="M341.9 769.5L409.6 769.5" stroke-width="1.1"/>
<path d="M412.0 769.5L438.2 769.5" stroke-width="1.1"/>
<path d="M341.9 747.5L352.6 747.5" stroke-width="1.1"/>
<path d="M355.0 747.5L422.7 747.5" stroke-width="1.1"/>
<path d="M444.1 747.5L466.7 747.5" stroke-width="1.1"/>
<path d="M489.5 747.5L557.3 747.5" stroke-width="1.1"/>
<path d="M559.6 747.5L589.4 747.5" stroke-width="1.1"/>
<path d="M365.2 805.5L382.5 805.5L382.5 794.5L405.5 794.5L405.5 805.5L423.5 805.5L423.5 794.5L447.7 794.5" stroke-width="1.1" fill="none"/>
<path d="M464.3 794.6L489.5 794.4L489.5 777.5L525.4 777.5" stroke-width="1.1" fill="none"/>
<path d="M347.5 710.2L347.5 750.0" stroke-width="1.1"/>
<path d="M347.5 710.2L349.4 719.8L345.6 719.8Z" fill="#0d0d0d" stroke="#0d0d0d" stroke-width="0.4"/>
<path d="M347.5 747.1L345.6 737.5L349.4 737.5Z" fill="#0d0d0d" stroke="#0d0d0d" stroke-width="0.4"/>
<text class="d" x="345.3" y="738.0" font-size="13.4" textLength="19.0" lengthAdjust="spacingAndGlyphs" transform="rotate(-90 345.3 738.0)">2.5</text>
<path d="M347.5 769.7L347.5 788.0" stroke-width="1.1"/>
<path d="M347.5 769.7L349.4 779.3L345.6 779.3Z" fill="#0d0d0d" stroke="#0d0d0d" stroke-width="0.4"/>
<text class="d" x="345.3" y="767.8" font-size="13.4" textLength="17.8" lengthAdjust="spacingAndGlyphs" transform="rotate(-90 345.3 767.8)">1.5</text>
<path d="M431.6 717.1L454.8 740.5L528.7 740.5" stroke-width="1.1" fill="none"/>
<path d="M431.6 717.1L439.8 722.5L437.1 725.2Z" fill="#0d0d0d" stroke="#0d0d0d" stroke-width="0.4"/>
<text class="d" x="458.4" y="735.7" font-size="13.4" textLength="45.0" lengthAdjust="spacingAndGlyphs">2−⌀1.3</text>
<text class="d tb" x="505.7" y="728.6" font-size="9.0" textLength="18.0" lengthAdjust="spacingAndGlyphs">+0.1</text>
<text class="d tb" x="505.7" y="738.2" font-size="9.0" textLength="24.4" lengthAdjust="spacingAndGlyphs">-0.05</text>
<path d="M490.5 686.0L490.5 697.0" stroke-width="1.1" fill="none"/>
<path d="M508.5 686.0L508.5 697.0" stroke-width="1.1" fill="none"/>
<path d="M488.3 696.5L512.1 696.5" stroke-width="1.1"/>
<path d="M532.5 686.0L532.5 697.0" stroke-width="1.1"/>
<path d="M527.6 696.5L550.1 696.5" stroke-width="1.1"/>
<path d="M550.5 686.0L550.5 721.4" stroke-width="1.1"/>
<path d="M550.5 738.0L550.5 744.7" stroke-width="1.1"/>
<path d="M532.5 772.5L532.5 744.5L550.5 744.5L550.5 772.5" stroke-width="1.1" fill="none"/>
<path d="M541.5 740.4L541.5 803.4" stroke-width="1.1"/>
<path d="M525.5 636.9L525.5 657.0" stroke-width="1.1"/>
<path d="M558.5 636.9L558.5 657.0" stroke-width="1.1"/>
<path d="M525.2 642.5L636.9 642.5" stroke-width="1.1"/>
<path d="M525.2 642.5L534.8 640.6L534.8 644.4Z" fill="#0d0d0d" stroke="#0d0d0d" stroke-width="0.4"/>
<path d="M558.5 642.5L548.9 644.4L548.9 640.6Z" fill="#0d0d0d" stroke="#0d0d0d" stroke-width="0.4"/>
<text class="d" x="569.2" y="640.0" font-size="13.4" textLength="66.5" lengthAdjust="spacingAndGlyphs">3−1.8×2.2</text>
<path d="M559.6 686.5L589.4 686.5" stroke-width="1.1"/>
<path d="M559.6 772.5L589.4 772.5" stroke-width="1.1"/>
<path d="M584.5 686.8L584.5 772.5" stroke-width="1.1"/>
<path d="M584.5 686.8L586.4 696.4L582.6 696.4Z" fill="#0d0d0d" stroke="#0d0d0d" stroke-width="0.4"/>
<path d="M584.5 747.1L582.6 737.5L586.4 737.5Z" fill="#0d0d0d" stroke="#0d0d0d" stroke-width="0.4"/>
<path d="M584.5 747.1L586.4 756.7L582.6 756.7Z" fill="#0d0d0d" stroke="#0d0d0d" stroke-width="0.4"/>
<path d="M584.5 772.5L582.6 762.9L586.4 762.9Z" fill="#0d0d0d" stroke="#0d0d0d" stroke-width="0.4"/>
<text class="d" x="582.4" y="725.0" font-size="13.4" textLength="16.7" lengthAdjust="spacingAndGlyphs" transform="rotate(-90 582.4 725.0)">4.1</text>
<text class="d" x="582.4" y="767.8" font-size="13.4" textLength="16.8" lengthAdjust="spacingAndGlyphs" transform="rotate(-90 582.4 767.8)">1.7</text>
<text class="b" x="472.3" y="671.0" font-size="14.7" textLength="6.3" lengthAdjust="spacingAndGlyphs">B</text>
<text class="b" x="563.5" y="671.0" font-size="14.7" textLength="6.3" lengthAdjust="spacingAndGlyphs">C</text>
<text class="b" x="512.0" y="797.8" font-size="14.7" textLength="6.8" lengthAdjust="spacingAndGlyphs">A</text>
<text class="b" transform="translate(406.0 860.1) scale(0.700 1)" x="0.51 10.90 30.23 41.46 61.20 74.52 81.58 91.35 101.53 111.30 121.91 132.50" y="0" font-size="15">P、C、B LAYOUT</text>
<path d="M405.7 862.5L507.2 862.5" stroke-width="1.2"/></svg>
</div></body></html>
